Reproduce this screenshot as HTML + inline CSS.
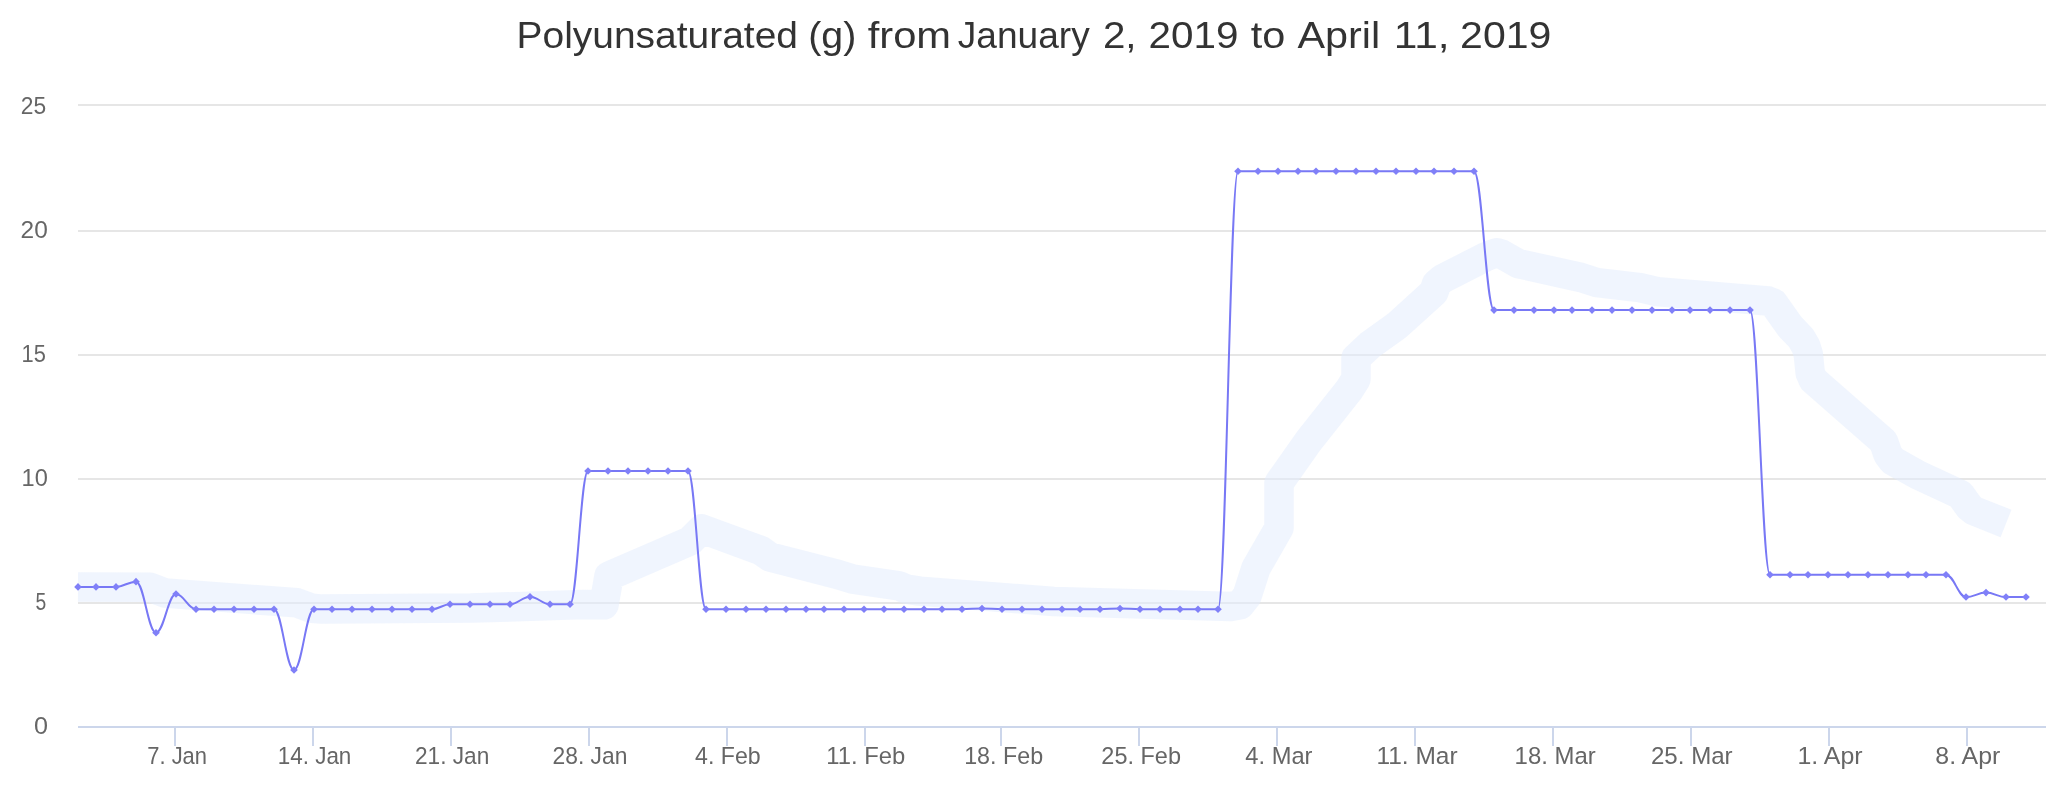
<!DOCTYPE html><html><head><meta charset="utf-8"><style>html,body{margin:0;padding:0;background:#fff;}svg{display:block;font-family:"Liberation Sans",sans-serif;will-change:transform;}</style></head><body>
<svg width="2066" height="800" viewBox="0 0 2066 800">
<rect x="0" y="0" width="2066" height="800" fill="#ffffff"/>
<rect x="78" y="104" width="1968" height="2" fill="#e6e6e6"/>
<rect x="78" y="230" width="1968" height="2" fill="#e6e6e6"/>
<rect x="78" y="354" width="1968" height="2" fill="#e6e6e6"/>
<rect x="78" y="478" width="1968" height="2" fill="#e6e6e6"/>
<rect x="78" y="602" width="1968" height="2" fill="#e6e6e6"/>
<path d="M 78.0 587.0 L 150.0 587.2 L 165.0 593.0 L 297.0 602.8 L 312.0 608.3 L 322.0 609.1 L 471.0 608.1 L 583.0 604.6 L 604.0 604.8 L 609.0 576.0 L 690.0 541.0 L 702.0 529.0 L 761.0 550.7 L 770.0 557.0 L 837.5 574.4 L 853.0 579.2 L 899.0 585.9 L 906.5 589.1 L 919.6 591.1 L 1053.7 601.5 L 1231.0 606.4 L 1240.0 604.8 L 1247.0 596.0 L 1256.0 568.0 L 1279.0 528.0 L 1279.0 483.0 L 1308.6 441.0 L 1349.0 390.0 L 1356.0 379.0 L 1356.0 358.0 L 1369.9 345.1 L 1396.4 326.1 L 1434.0 292.0 L 1436.5 283.9 L 1442.3 278.9 L 1486.0 256.7 L 1490.0 255.0 L 1496.8 252.8 L 1501.8 254.2 L 1518.1 263.5 L 1581.0 277.5 L 1597.3 282.7 L 1640.0 287.7 L 1657.0 291.6 L 1768.2 301.0 L 1773.5 303.2 L 1790.2 326.7 L 1800.9 337.9 L 1805.8 346.3 L 1808.3 354.2 L 1810.2 373.0 L 1813.3 380.0 L 1883.5 441.5 L 1888.0 454.5 L 1892.5 460.6 L 1917.9 474.9 L 1960.4 494.7 L 1969.0 506.7 L 1973.6 510.6 L 2006.0 523.5" fill="none" stroke="#e1ebfd" stroke-opacity="0.5" stroke-width="29.5" stroke-linejoin="round" stroke-linecap="butt"/>
<rect x="78" y="726" width="1968" height="2" fill="#ccd6eb"/>
<rect x="174" y="726" width="2" height="20" fill="#ccd6eb"/>
<rect x="312" y="726" width="2" height="20" fill="#ccd6eb"/>
<rect x="450" y="726" width="2" height="20" fill="#ccd6eb"/>
<rect x="588" y="726" width="2" height="20" fill="#ccd6eb"/>
<rect x="726" y="726" width="2" height="20" fill="#ccd6eb"/>
<rect x="864" y="726" width="2" height="20" fill="#ccd6eb"/>
<rect x="1000" y="726" width="2" height="20" fill="#ccd6eb"/>
<rect x="1138" y="726" width="2" height="20" fill="#ccd6eb"/>
<rect x="1276" y="726" width="2" height="20" fill="#ccd6eb"/>
<rect x="1414" y="726" width="2" height="20" fill="#ccd6eb"/>
<rect x="1552" y="726" width="2" height="20" fill="#ccd6eb"/>
<rect x="1690" y="726" width="2" height="20" fill="#ccd6eb"/>
<rect x="1828" y="726" width="2" height="20" fill="#ccd6eb"/>
<rect x="1966" y="726" width="2" height="20" fill="#ccd6eb"/>
<path d="M 78.00 586.88 C 78.00 586.88 88.80 586.88 96.00 586.88 C 104.00 586.88 108.00 586.88 116.00 586.88 C 124.00 586.88 128.00 581.67 136.00 581.67 C 144.00 581.67 148.00 632.76 156.00 632.76 C 164.00 632.76 168.00 594.07 176.00 594.07 C 184.00 594.07 188.00 609.20 196.00 609.20 C 203.20 609.20 206.80 609.20 214.00 609.20 C 222.00 609.20 226.00 609.20 234.00 609.20 C 242.00 609.20 246.00 609.20 254.00 609.20 C 262.00 609.20 266.00 609.20 274.00 609.20 C 282.00 609.20 286.00 669.96 294.00 669.96 C 302.00 669.96 306.00 609.20 314.00 609.20 C 321.20 609.20 324.80 609.20 332.00 609.20 C 340.00 609.20 344.00 609.20 352.00 609.20 C 360.00 609.20 364.00 609.20 372.00 609.20 C 380.00 609.20 384.00 609.20 392.00 609.20 C 400.00 609.20 404.00 609.20 412.00 609.20 C 420.00 609.20 424.00 609.20 432.00 609.20 C 439.20 609.20 442.80 604.24 450.00 604.24 C 458.00 604.24 462.00 604.24 470.00 604.24 C 478.00 604.24 482.00 604.24 490.00 604.24 C 498.00 604.24 502.00 604.24 510.00 604.24 C 518.00 604.24 522.00 596.80 530.00 596.80 C 538.00 596.80 542.00 604.24 550.00 604.24 C 558.00 604.24 562.00 604.24 570.00 604.24 C 577.20 604.24 580.80 471.06 588.00 471.06 C 596.00 471.06 600.00 471.06 608.00 471.06 C 616.00 471.06 620.00 471.06 628.00 471.06 C 636.00 471.06 640.00 471.06 648.00 471.06 C 656.00 471.06 660.00 471.06 668.00 471.06 C 676.00 471.06 680.00 471.06 688.00 471.06 C 695.20 471.06 698.80 609.20 706.00 609.20 C 714.00 609.20 718.00 609.20 726.00 609.20 C 734.00 609.20 738.00 609.20 746.00 609.20 C 754.00 609.20 758.00 609.20 766.00 609.20 C 774.00 609.20 778.00 609.20 786.00 609.20 C 794.00 609.20 798.00 609.20 806.00 609.20 C 813.20 609.20 816.80 609.20 824.00 609.20 C 832.00 609.20 836.00 609.20 844.00 609.20 C 852.00 609.20 856.00 609.20 864.00 609.20 C 872.00 609.20 876.00 609.20 884.00 609.20 C 892.00 609.20 896.00 609.20 904.00 609.20 C 912.00 609.20 916.00 609.20 924.00 609.20 C 931.20 609.20 934.80 609.20 942.00 609.20 C 950.00 609.20 954.00 609.20 962.00 609.20 C 970.00 609.20 974.00 608.46 982.00 608.46 C 990.00 608.46 994.00 609.20 1002.00 609.20 C 1010.00 609.20 1014.00 609.20 1022.00 609.20 C 1030.00 609.20 1034.00 609.20 1042.00 609.20 C 1050.00 609.20 1054.00 609.20 1062.00 609.20 C 1069.20 609.20 1072.80 609.20 1080.00 609.20 C 1088.00 609.20 1092.00 609.20 1100.00 609.20 C 1108.00 609.20 1112.00 608.46 1120.00 608.46 C 1128.00 608.46 1132.00 609.20 1140.00 609.20 C 1148.00 609.20 1152.00 609.20 1160.00 609.20 C 1168.00 609.20 1172.00 609.20 1180.00 609.20 C 1187.20 609.20 1190.80 609.20 1198.00 609.20 C 1206.00 609.20 1210.00 609.20 1218.00 609.20 C 1226.00 609.20 1230.00 171.23 1238.00 171.23 C 1246.00 171.23 1250.00 171.23 1258.00 171.23 C 1266.00 171.23 1270.00 171.23 1278.00 171.23 C 1286.00 171.23 1290.00 171.23 1298.00 171.23 C 1305.20 171.23 1308.80 171.23 1316.00 171.23 C 1324.00 171.23 1328.00 171.23 1336.00 171.23 C 1344.00 171.23 1348.00 171.23 1356.00 171.23 C 1364.00 171.23 1368.00 171.23 1376.00 171.23 C 1384.00 171.23 1388.00 171.23 1396.00 171.23 C 1404.00 171.23 1408.00 171.23 1416.00 171.23 C 1423.20 171.23 1426.80 171.23 1434.00 171.23 C 1442.00 171.23 1446.00 171.23 1454.00 171.23 C 1462.00 171.23 1466.00 171.23 1474.00 171.23 C 1482.00 171.23 1486.00 310.11 1494.00 310.11 C 1502.00 310.11 1506.00 310.11 1514.00 310.11 C 1522.00 310.11 1526.00 310.11 1534.00 310.11 C 1542.00 310.11 1546.00 310.11 1554.00 310.11 C 1561.20 310.11 1564.80 310.11 1572.00 310.11 C 1580.00 310.11 1584.00 310.11 1592.00 310.11 C 1600.00 310.11 1604.00 310.11 1612.00 310.11 C 1620.00 310.11 1624.00 310.11 1632.00 310.11 C 1640.00 310.11 1644.00 310.11 1652.00 310.11 C 1660.00 310.11 1664.00 310.11 1672.00 310.11 C 1679.20 310.11 1682.80 310.11 1690.00 310.11 C 1698.00 310.11 1702.00 310.11 1710.00 310.11 C 1718.00 310.11 1722.00 310.11 1730.00 310.11 C 1738.00 310.11 1742.00 310.11 1750.00 310.11 C 1758.00 310.11 1762.00 574.73 1770.00 574.73 C 1778.00 574.73 1782.00 574.73 1790.00 574.73 C 1797.20 574.73 1800.80 574.73 1808.00 574.73 C 1816.00 574.73 1820.00 574.73 1828.00 574.73 C 1836.00 574.73 1840.00 574.73 1848.00 574.73 C 1856.00 574.73 1860.00 574.73 1868.00 574.73 C 1876.00 574.73 1880.00 574.73 1888.00 574.73 C 1896.00 574.73 1900.00 574.73 1908.00 574.73 C 1915.20 574.73 1918.80 574.73 1926.00 574.73 C 1934.00 574.73 1938.00 574.73 1946.00 574.73 C 1954.00 574.73 1958.00 597.05 1966.00 597.05 C 1974.00 597.05 1978.00 592.58 1986.00 592.58 C 1994.00 592.58 1998.00 597.05 2006.00 597.05 C 2014.00 597.05 2026.00 597.05 2026.00 597.05" fill="none" stroke="#7878f5" stroke-width="2" stroke-linejoin="round" stroke-linecap="round"/>
<path d="M 78.00 583.08 L 81.80 586.88 L 78.00 590.68 L 74.20 586.88 Z" fill="#8080f8"/>
<path d="M 96.00 583.08 L 99.80 586.88 L 96.00 590.68 L 92.20 586.88 Z" fill="#8080f8"/>
<path d="M 116.00 583.08 L 119.80 586.88 L 116.00 590.68 L 112.20 586.88 Z" fill="#8080f8"/>
<path d="M 136.00 577.87 L 139.80 581.67 L 136.00 585.47 L 132.20 581.67 Z" fill="#8080f8"/>
<path d="M 156.00 628.96 L 159.80 632.76 L 156.00 636.56 L 152.20 632.76 Z" fill="#8080f8"/>
<path d="M 176.00 590.27 L 179.80 594.07 L 176.00 597.87 L 172.20 594.07 Z" fill="#8080f8"/>
<path d="M 196.00 605.40 L 199.80 609.20 L 196.00 613.00 L 192.20 609.20 Z" fill="#8080f8"/>
<path d="M 214.00 605.40 L 217.80 609.20 L 214.00 613.00 L 210.20 609.20 Z" fill="#8080f8"/>
<path d="M 234.00 605.40 L 237.80 609.20 L 234.00 613.00 L 230.20 609.20 Z" fill="#8080f8"/>
<path d="M 254.00 605.40 L 257.80 609.20 L 254.00 613.00 L 250.20 609.20 Z" fill="#8080f8"/>
<path d="M 274.00 605.40 L 277.80 609.20 L 274.00 613.00 L 270.20 609.20 Z" fill="#8080f8"/>
<path d="M 294.00 666.16 L 297.80 669.96 L 294.00 673.76 L 290.20 669.96 Z" fill="#8080f8"/>
<path d="M 314.00 605.40 L 317.80 609.20 L 314.00 613.00 L 310.20 609.20 Z" fill="#8080f8"/>
<path d="M 332.00 605.40 L 335.80 609.20 L 332.00 613.00 L 328.20 609.20 Z" fill="#8080f8"/>
<path d="M 352.00 605.40 L 355.80 609.20 L 352.00 613.00 L 348.20 609.20 Z" fill="#8080f8"/>
<path d="M 372.00 605.40 L 375.80 609.20 L 372.00 613.00 L 368.20 609.20 Z" fill="#8080f8"/>
<path d="M 392.00 605.40 L 395.80 609.20 L 392.00 613.00 L 388.20 609.20 Z" fill="#8080f8"/>
<path d="M 412.00 605.40 L 415.80 609.20 L 412.00 613.00 L 408.20 609.20 Z" fill="#8080f8"/>
<path d="M 432.00 605.40 L 435.80 609.20 L 432.00 613.00 L 428.20 609.20 Z" fill="#8080f8"/>
<path d="M 450.00 600.44 L 453.80 604.24 L 450.00 608.04 L 446.20 604.24 Z" fill="#8080f8"/>
<path d="M 470.00 600.44 L 473.80 604.24 L 470.00 608.04 L 466.20 604.24 Z" fill="#8080f8"/>
<path d="M 490.00 600.44 L 493.80 604.24 L 490.00 608.04 L 486.20 604.24 Z" fill="#8080f8"/>
<path d="M 510.00 600.44 L 513.80 604.24 L 510.00 608.04 L 506.20 604.24 Z" fill="#8080f8"/>
<path d="M 530.00 593.00 L 533.80 596.80 L 530.00 600.60 L 526.20 596.80 Z" fill="#8080f8"/>
<path d="M 550.00 600.44 L 553.80 604.24 L 550.00 608.04 L 546.20 604.24 Z" fill="#8080f8"/>
<path d="M 570.00 600.44 L 573.80 604.24 L 570.00 608.04 L 566.20 604.24 Z" fill="#8080f8"/>
<path d="M 588.00 467.26 L 591.80 471.06 L 588.00 474.86 L 584.20 471.06 Z" fill="#8080f8"/>
<path d="M 608.00 467.26 L 611.80 471.06 L 608.00 474.86 L 604.20 471.06 Z" fill="#8080f8"/>
<path d="M 628.00 467.26 L 631.80 471.06 L 628.00 474.86 L 624.20 471.06 Z" fill="#8080f8"/>
<path d="M 648.00 467.26 L 651.80 471.06 L 648.00 474.86 L 644.20 471.06 Z" fill="#8080f8"/>
<path d="M 668.00 467.26 L 671.80 471.06 L 668.00 474.86 L 664.20 471.06 Z" fill="#8080f8"/>
<path d="M 688.00 467.26 L 691.80 471.06 L 688.00 474.86 L 684.20 471.06 Z" fill="#8080f8"/>
<path d="M 706.00 605.40 L 709.80 609.20 L 706.00 613.00 L 702.20 609.20 Z" fill="#8080f8"/>
<path d="M 726.00 605.40 L 729.80 609.20 L 726.00 613.00 L 722.20 609.20 Z" fill="#8080f8"/>
<path d="M 746.00 605.40 L 749.80 609.20 L 746.00 613.00 L 742.20 609.20 Z" fill="#8080f8"/>
<path d="M 766.00 605.40 L 769.80 609.20 L 766.00 613.00 L 762.20 609.20 Z" fill="#8080f8"/>
<path d="M 786.00 605.40 L 789.80 609.20 L 786.00 613.00 L 782.20 609.20 Z" fill="#8080f8"/>
<path d="M 806.00 605.40 L 809.80 609.20 L 806.00 613.00 L 802.20 609.20 Z" fill="#8080f8"/>
<path d="M 824.00 605.40 L 827.80 609.20 L 824.00 613.00 L 820.20 609.20 Z" fill="#8080f8"/>
<path d="M 844.00 605.40 L 847.80 609.20 L 844.00 613.00 L 840.20 609.20 Z" fill="#8080f8"/>
<path d="M 864.00 605.40 L 867.80 609.20 L 864.00 613.00 L 860.20 609.20 Z" fill="#8080f8"/>
<path d="M 884.00 605.40 L 887.80 609.20 L 884.00 613.00 L 880.20 609.20 Z" fill="#8080f8"/>
<path d="M 904.00 605.40 L 907.80 609.20 L 904.00 613.00 L 900.20 609.20 Z" fill="#8080f8"/>
<path d="M 924.00 605.40 L 927.80 609.20 L 924.00 613.00 L 920.20 609.20 Z" fill="#8080f8"/>
<path d="M 942.00 605.40 L 945.80 609.20 L 942.00 613.00 L 938.20 609.20 Z" fill="#8080f8"/>
<path d="M 962.00 605.40 L 965.80 609.20 L 962.00 613.00 L 958.20 609.20 Z" fill="#8080f8"/>
<path d="M 982.00 604.66 L 985.80 608.46 L 982.00 612.26 L 978.20 608.46 Z" fill="#8080f8"/>
<path d="M 1002.00 605.40 L 1005.80 609.20 L 1002.00 613.00 L 998.20 609.20 Z" fill="#8080f8"/>
<path d="M 1022.00 605.40 L 1025.80 609.20 L 1022.00 613.00 L 1018.20 609.20 Z" fill="#8080f8"/>
<path d="M 1042.00 605.40 L 1045.80 609.20 L 1042.00 613.00 L 1038.20 609.20 Z" fill="#8080f8"/>
<path d="M 1062.00 605.40 L 1065.80 609.20 L 1062.00 613.00 L 1058.20 609.20 Z" fill="#8080f8"/>
<path d="M 1080.00 605.40 L 1083.80 609.20 L 1080.00 613.00 L 1076.20 609.20 Z" fill="#8080f8"/>
<path d="M 1100.00 605.40 L 1103.80 609.20 L 1100.00 613.00 L 1096.20 609.20 Z" fill="#8080f8"/>
<path d="M 1120.00 604.66 L 1123.80 608.46 L 1120.00 612.26 L 1116.20 608.46 Z" fill="#8080f8"/>
<path d="M 1140.00 605.40 L 1143.80 609.20 L 1140.00 613.00 L 1136.20 609.20 Z" fill="#8080f8"/>
<path d="M 1160.00 605.40 L 1163.80 609.20 L 1160.00 613.00 L 1156.20 609.20 Z" fill="#8080f8"/>
<path d="M 1180.00 605.40 L 1183.80 609.20 L 1180.00 613.00 L 1176.20 609.20 Z" fill="#8080f8"/>
<path d="M 1198.00 605.40 L 1201.80 609.20 L 1198.00 613.00 L 1194.20 609.20 Z" fill="#8080f8"/>
<path d="M 1218.00 605.40 L 1221.80 609.20 L 1218.00 613.00 L 1214.20 609.20 Z" fill="#8080f8"/>
<path d="M 1238.00 167.43 L 1241.80 171.23 L 1238.00 175.03 L 1234.20 171.23 Z" fill="#8080f8"/>
<path d="M 1258.00 167.43 L 1261.80 171.23 L 1258.00 175.03 L 1254.20 171.23 Z" fill="#8080f8"/>
<path d="M 1278.00 167.43 L 1281.80 171.23 L 1278.00 175.03 L 1274.20 171.23 Z" fill="#8080f8"/>
<path d="M 1298.00 167.43 L 1301.80 171.23 L 1298.00 175.03 L 1294.20 171.23 Z" fill="#8080f8"/>
<path d="M 1316.00 167.43 L 1319.80 171.23 L 1316.00 175.03 L 1312.20 171.23 Z" fill="#8080f8"/>
<path d="M 1336.00 167.43 L 1339.80 171.23 L 1336.00 175.03 L 1332.20 171.23 Z" fill="#8080f8"/>
<path d="M 1356.00 167.43 L 1359.80 171.23 L 1356.00 175.03 L 1352.20 171.23 Z" fill="#8080f8"/>
<path d="M 1376.00 167.43 L 1379.80 171.23 L 1376.00 175.03 L 1372.20 171.23 Z" fill="#8080f8"/>
<path d="M 1396.00 167.43 L 1399.80 171.23 L 1396.00 175.03 L 1392.20 171.23 Z" fill="#8080f8"/>
<path d="M 1416.00 167.43 L 1419.80 171.23 L 1416.00 175.03 L 1412.20 171.23 Z" fill="#8080f8"/>
<path d="M 1434.00 167.43 L 1437.80 171.23 L 1434.00 175.03 L 1430.20 171.23 Z" fill="#8080f8"/>
<path d="M 1454.00 167.43 L 1457.80 171.23 L 1454.00 175.03 L 1450.20 171.23 Z" fill="#8080f8"/>
<path d="M 1474.00 167.43 L 1477.80 171.23 L 1474.00 175.03 L 1470.20 171.23 Z" fill="#8080f8"/>
<path d="M 1494.00 306.31 L 1497.80 310.11 L 1494.00 313.91 L 1490.20 310.11 Z" fill="#8080f8"/>
<path d="M 1514.00 306.31 L 1517.80 310.11 L 1514.00 313.91 L 1510.20 310.11 Z" fill="#8080f8"/>
<path d="M 1534.00 306.31 L 1537.80 310.11 L 1534.00 313.91 L 1530.20 310.11 Z" fill="#8080f8"/>
<path d="M 1554.00 306.31 L 1557.80 310.11 L 1554.00 313.91 L 1550.20 310.11 Z" fill="#8080f8"/>
<path d="M 1572.00 306.31 L 1575.80 310.11 L 1572.00 313.91 L 1568.20 310.11 Z" fill="#8080f8"/>
<path d="M 1592.00 306.31 L 1595.80 310.11 L 1592.00 313.91 L 1588.20 310.11 Z" fill="#8080f8"/>
<path d="M 1612.00 306.31 L 1615.80 310.11 L 1612.00 313.91 L 1608.20 310.11 Z" fill="#8080f8"/>
<path d="M 1632.00 306.31 L 1635.80 310.11 L 1632.00 313.91 L 1628.20 310.11 Z" fill="#8080f8"/>
<path d="M 1652.00 306.31 L 1655.80 310.11 L 1652.00 313.91 L 1648.20 310.11 Z" fill="#8080f8"/>
<path d="M 1672.00 306.31 L 1675.80 310.11 L 1672.00 313.91 L 1668.20 310.11 Z" fill="#8080f8"/>
<path d="M 1690.00 306.31 L 1693.80 310.11 L 1690.00 313.91 L 1686.20 310.11 Z" fill="#8080f8"/>
<path d="M 1710.00 306.31 L 1713.80 310.11 L 1710.00 313.91 L 1706.20 310.11 Z" fill="#8080f8"/>
<path d="M 1730.00 306.31 L 1733.80 310.11 L 1730.00 313.91 L 1726.20 310.11 Z" fill="#8080f8"/>
<path d="M 1750.00 306.31 L 1753.80 310.11 L 1750.00 313.91 L 1746.20 310.11 Z" fill="#8080f8"/>
<path d="M 1770.00 570.93 L 1773.80 574.73 L 1770.00 578.53 L 1766.20 574.73 Z" fill="#8080f8"/>
<path d="M 1790.00 570.93 L 1793.80 574.73 L 1790.00 578.53 L 1786.20 574.73 Z" fill="#8080f8"/>
<path d="M 1808.00 570.93 L 1811.80 574.73 L 1808.00 578.53 L 1804.20 574.73 Z" fill="#8080f8"/>
<path d="M 1828.00 570.93 L 1831.80 574.73 L 1828.00 578.53 L 1824.20 574.73 Z" fill="#8080f8"/>
<path d="M 1848.00 570.93 L 1851.80 574.73 L 1848.00 578.53 L 1844.20 574.73 Z" fill="#8080f8"/>
<path d="M 1868.00 570.93 L 1871.80 574.73 L 1868.00 578.53 L 1864.20 574.73 Z" fill="#8080f8"/>
<path d="M 1888.00 570.93 L 1891.80 574.73 L 1888.00 578.53 L 1884.20 574.73 Z" fill="#8080f8"/>
<path d="M 1908.00 570.93 L 1911.80 574.73 L 1908.00 578.53 L 1904.20 574.73 Z" fill="#8080f8"/>
<path d="M 1926.00 570.93 L 1929.80 574.73 L 1926.00 578.53 L 1922.20 574.73 Z" fill="#8080f8"/>
<path d="M 1946.00 570.93 L 1949.80 574.73 L 1946.00 578.53 L 1942.20 574.73 Z" fill="#8080f8"/>
<path d="M 1966.00 593.25 L 1969.80 597.05 L 1966.00 600.85 L 1962.20 597.05 Z" fill="#8080f8"/>
<path d="M 1986.00 588.78 L 1989.80 592.58 L 1986.00 596.38 L 1982.20 592.58 Z" fill="#8080f8"/>
<path d="M 2006.00 593.25 L 2009.80 597.05 L 2006.00 600.85 L 2002.20 597.05 Z" fill="#8080f8"/>
<path d="M 2026.00 593.25 L 2029.80 597.05 L 2026.00 600.85 L 2022.20 597.05 Z" fill="#8080f8"/>
<text x="516.56" y="47.75" font-size="37.3" textLength="281.41" lengthAdjust="spacingAndGlyphs" fill="#333333">Polyunsaturated</text>
<text x="808.28" y="47.75" font-size="37.3" textLength="48.03" lengthAdjust="spacingAndGlyphs" fill="#333333">(g)</text>
<text x="867.74" y="47.75" font-size="37.3" textLength="83.35" lengthAdjust="spacingAndGlyphs" fill="#333333">from</text>
<text x="957.80" y="47.75" font-size="37.3" textLength="131.99" lengthAdjust="spacingAndGlyphs" fill="#333333">January</text>
<text x="1102.95" y="47.75" font-size="37.3" textLength="33.64" lengthAdjust="spacingAndGlyphs" fill="#333333">2,</text>
<text x="1148.64" y="47.75" font-size="37.3" textLength="89.88" lengthAdjust="spacingAndGlyphs" fill="#333333">2019</text>
<text x="1250.73" y="47.75" font-size="37.3" textLength="34.54" lengthAdjust="spacingAndGlyphs" fill="#333333">to</text>
<text x="1297.49" y="47.75" font-size="37.3" textLength="82.70" lengthAdjust="spacingAndGlyphs" fill="#333333">April</text>
<text x="1393.71" y="47.75" font-size="37.3" textLength="55.83" lengthAdjust="spacingAndGlyphs" fill="#333333">11,</text>
<text x="1460.11" y="47.75" font-size="37.3" textLength="91.24" lengthAdjust="spacingAndGlyphs" fill="#333333">2019</text>
<text x="147.27" y="764.00" font-size="23.25" textLength="59.75" lengthAdjust="spacingAndGlyphs" fill="#666666">7. Jan</text>
<text x="277.76" y="764.00" font-size="23.25" textLength="73.59" lengthAdjust="spacingAndGlyphs" fill="#666666">14. Jan</text>
<text x="415.03" y="764.00" font-size="23.25" textLength="74.24" lengthAdjust="spacingAndGlyphs" fill="#666666">21. Jan</text>
<text x="552.52" y="764.00" font-size="23.25" textLength="74.86" lengthAdjust="spacingAndGlyphs" fill="#666666">28. Jan</text>
<text x="695.10" y="764.00" font-size="23.25" textLength="65.57" lengthAdjust="spacingAndGlyphs" fill="#666666">4. Feb</text>
<text x="826.25" y="764.00" font-size="23.25" textLength="78.92" lengthAdjust="spacingAndGlyphs" fill="#666666">11. Feb</text>
<text x="964.20" y="764.00" font-size="23.25" textLength="78.88" lengthAdjust="spacingAndGlyphs" fill="#666666">18. Feb</text>
<text x="1101.39" y="764.00" font-size="23.25" textLength="79.60" lengthAdjust="spacingAndGlyphs" fill="#666666">25. Feb</text>
<text x="1245.29" y="764.00" font-size="23.25" textLength="67.17" lengthAdjust="spacingAndGlyphs" fill="#666666">4. Mar</text>
<text x="1376.40" y="764.00" font-size="23.25" textLength="81.15" lengthAdjust="spacingAndGlyphs" fill="#666666">11. Mar</text>
<text x="1514.64" y="764.00" font-size="23.25" textLength="81.12" lengthAdjust="spacingAndGlyphs" fill="#666666">18. Mar</text>
<text x="1650.95" y="764.00" font-size="23.25" textLength="81.72" lengthAdjust="spacingAndGlyphs" fill="#666666">25. Mar</text>
<text x="1797.47" y="764.00" font-size="23.25" textLength="65.08" lengthAdjust="spacingAndGlyphs" fill="#666666">1. Apr</text>
<text x="1935.33" y="764.00" font-size="23.25" textLength="65.02" lengthAdjust="spacingAndGlyphs" fill="#666666">8. Apr</text>
<text x="20.73" y="113.80" font-size="23.3" textLength="25.37" lengthAdjust="spacingAndGlyphs" fill="#666666">25</text>
<text x="20.64" y="237.90" font-size="23.3" textLength="27.22" lengthAdjust="spacingAndGlyphs" fill="#666666">20</text>
<text x="21.56" y="361.75" font-size="23.3" textLength="24.30" lengthAdjust="spacingAndGlyphs" fill="#666666">15</text>
<text x="21.58" y="485.80" font-size="23.3" textLength="26.25" lengthAdjust="spacingAndGlyphs" fill="#666666">10</text>
<text x="35.45" y="609.70" font-size="23.3" textLength="10.74" lengthAdjust="spacingAndGlyphs" fill="#666666">5</text>
<text x="34.03" y="733.75" font-size="23.3" textLength="14.01" lengthAdjust="spacingAndGlyphs" fill="#666666">0</text>
</svg></body></html>
